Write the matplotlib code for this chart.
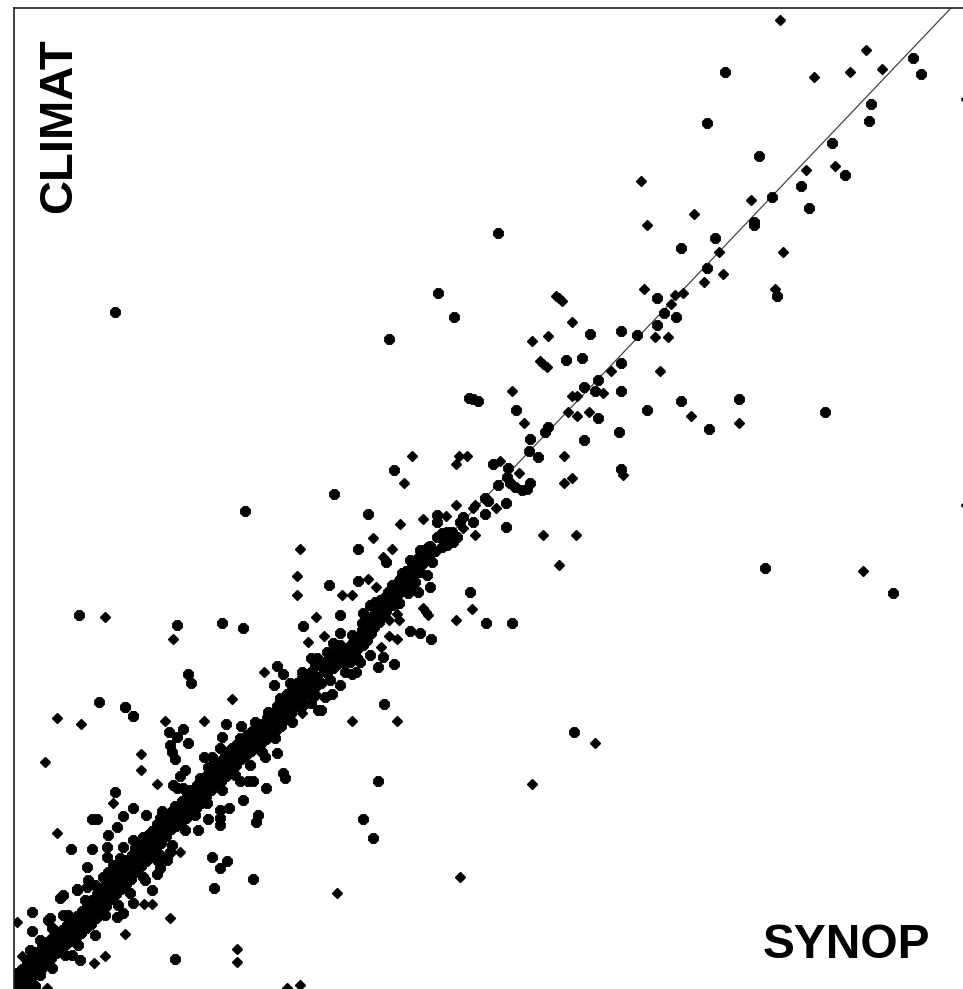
import numpy as np
import matplotlib

matplotlib.use('Agg')
import matplotlib.pyplot as plt

# values, in chart units (y axis runs downwards)
small_x = [779.7, 866.3, 850.3, 814, 882, 834.7, 806.3, 751, 694.3, 647.3, 640.7, 719.3, 782.7, 722.7, 704, 644, 774.7,
           683.3, 675, 670.7, 555.7, 559, 562.3, 571.7, 105, 172.7, 300.3, 297.3, 297.3, 316, 308.3, 532, 548, 540,
           543.3, 546.7, 611, 603.3, 571.7, 576.7, 511.7, 524.3, 568, 576.7, 589.3, 563.7, 623.3, 571.7, 563.7, 412.3,
           404.3, 459.3, 467.3, 455.7, 500.3, 519.3, 495.7, 456.3, 475, 472.7, 399.7, 423.3, 446, 462.7, 475, 543.3,
           576, 372.7, 391.7, 383.3, 558.7, 368.3, 376, 341.7, 352.3, 423.3, 426, 428.3, 472.3, 396.7, 399.3, 388.7,
           456, 324, 388.7, 396.7, 380.7, 655, 667.7, 660, 691.3, 738.7, 863, 352.3, 396.7, 595, 532, 459.7, 336.7,
           264, 57.3, 81, 164.7, 204.3, 232.3, 141, 141, 45, 157, 112.7, 57.3, 16.7, 21.7, 15, 47.3, 105, 94, 125.3,
           169.7, 144, 152.3, 180.3, 237.3, 237.3, 287.3, 300.3, 302.3, 965.5, 965.5]
small_y = [20, 50, 72, 77, 69, 166.3, 169.7, 199.7, 213.7, 225, 181, 251.7, 251.7, 273.7, 281.7, 289.3, 288.7,
           292.7, 295.3, 303.7, 295.7, 298.3, 301.3, 322.3, 617, 639, 549.3, 576, 595, 617, 642.3, 341.3, 336.3, 360.7,
           364.3, 367.3, 371.3, 393.3, 396.3, 396.3, 391, 423.3, 412, 415.7, 412, 456.3, 475.3, 478.3, 483, 456.3,
           483, 456, 456.3, 464.3, 460.7, 472.7, 508.3, 505, 505, 507.7, 524, 519.3, 516, 527.7, 535, 535,
           535, 538.3, 549, 556.7, 565, 579, 586.7, 595, 595, 608.3, 611.7, 615, 609, 614.3, 620, 620,
           620, 635.7, 635.7, 639, 646.7, 336.7, 336.7, 371.3, 415.7, 423.3, 571.3, 721, 721, 743, 784, 877, 892.7,
           672.3, 717.7, 724, 720.7, 721, 699, 754, 769.7, 762, 784, 803.3, 832.7, 922.3, 955.7, 974, 987.7, 955.7, 963.3, 933.7,
           917.7, 903.7, 903.7, 851.7, 949.3, 961.7, 987.7, 985, 712.7, 99, 505]

large_x = [725, 912.7, 921, 871, 868.7, 707, 832.3, 759, 845, 800.7, 771.7, 808.7, 754, 754, 715, 681, 707, 777.3,
           657.3, 664, 675.7, 657.3, 438, 454, 498, 79, 177.3, 222.3, 243, 245, 302.7, 310.7, 316.7, 115, 388.7, 589.7,
           621.3, 636.7, 566, 582, 621, 597.7, 584.3, 595, 621, 469.3, 478.3, 472.7, 516.3, 597.7, 548.3, 545.3, 619,
           584, 529.7, 529.3, 537.7, 621, 394, 493.3, 508.3, 506.7, 498.3, 510, 515, 521.7, 527.3, 530, 334.3, 485,
           488.3, 506, 485, 368, 437.3, 436.7, 463.3, 460, 472.7, 506, 358, 386, 358, 328.7, 470, 391.7, 399.3, 340,
           485.7, 511.7, 410, 420.3, 430.7, 647.3, 681, 709.3, 738.7, 824.7, 764.7, 892.7, 378.3, 394, 384, 573.7,
           378.3, 362.7, 372.7, 99, 276.7, 282.7, 125, 133.3, 226, 222.3, 115, 133.3, 123, 91.7, 96.7, 70.7, 91.7,
           86.7, 88.3, 31.7, 31.7, 152.3, 212.3, 226.7, 220, 253, 214.3, 175, 198.3, 229.3, 243, 266, 188.3, 191,
           125, 133.3]
large_y = [72, 58, 74.3, 104.3, 121, 123.3, 143, 156.3, 175, 186, 197, 207.7, 221.7, 225, 238, 248.3, 267.7, 295.7,
           298, 313, 317, 325.3, 292.7, 317, 232.7, 614.7, 625.3, 622.7, 628, 510.7, 625.7, 658.3, 658, 311.7, 339, 333.7,
           331, 335, 360.3, 358, 363.3, 379.7, 387.3, 391, 391, 398.3, 401.3, 399.3, 410, 418.3, 426.7, 432, 432,
           439.7, 439.3, 450.7, 456.7, 468.7, 469.7, 464, 468, 476.7, 485.3, 482.7, 487.3, 490.3, 489.3, 483, 494, 498.3,
           500.7, 502.7, 514, 513.7, 515.3, 521.7, 516.7, 521.7, 521.7, 527, 549, 562.3, 581, 584.7, 592.3, 605, 602.7, 614.7,
           622.7, 622.7, 631, 633.3, 639, 410, 401, 428.7, 399, 412.3, 568, 592.7, 666.7, 664, 704.3, 732,
           781, 819.3, 838.3, 702, 666, 674, 707.3, 715.7, 724, 737.3, 791.7, 808.3, 816, 819.3, 819.3, 849.3, 849.3,
           867.3, 880, 911.7, 931, 890, 857, 860.7, 868.3, 879.3, 888, 958.7, 830, 808.3, 799.7, 788.3, 674, 683.3,
           707.3, 715.7]

# the dense part along the diagonal, and the loose points next to it
band_x = [16.7, 26.7, 36.7, 46.7, 56.7, 66.7, 76.7, 86.7, 96.7, 106.7, 116.7, 126.7, 136.7, 146.7, 156.7, 166.7, 176.7,
          186.7, 196.7, 206.7, 216.7, 226.7, 236.7, 246.7, 256.7, 266.7, 276.7, 286.7, 296.7, 306.7, 316.7,
          12, 22, 32, 42, 52, 62, 72, 82, 92, 102, 112, 122, 132, 142, 152, 162, 172, 182, 192, 202, 212, 222, 232, 242,
          252, 262, 272, 282, 292, 302, 312,
          21, 31, 41, 51, 61, 71, 81, 91, 101, 111, 121, 131, 141, 151, 161, 171, 181, 191, 201, 211, 221, 231, 241, 251,
          261, 271, 281, 291, 301, 311, 321,
          50, 66.7, 123.3, 133.3, 143.3, 103.3, 110, 76.7, 86.7, 116.7, 123.3, 133.3, 143.3, 166.7, 156.7, 160, 170,
          323, 333, 340, 348, 356, 363, 370, 378, 385, 392, 397, 403, 327, 337, 345, 352, 360, 367, 374, 382, 389, 396,
          401, 408, 325, 333, 343, 350, 13, 20, 28, 35, 12, 436.7, 441.7, 446.7, 451.7, 456.7, 453.3, 446.7, 441.7, 450,
          445, 428.3, 420, 423.3, 410, 431.7, 420, 401.7, 415, 420, 413.3, 426.7, 406.7, 415, 410, 408.3, 418.3, 430,
          391.7, 388.3, 385, 380, 375, 370, 375, 380, 391.7, 399.3, 363.3, 370, 361.7, 370, 361.7, 340, 351.7, 360,
          368.3, 333.3, 340, 353.3, 363.3, 326.7, 335, 343.3, 356.7, 370, 383.3, 346.7, 360, 351.7, 355.7, 340, 332,
          324.7, 320.7, 182.7, 169.3, 177.3, 188.3, 170, 172.3, 175, 204, 212, 220, 208.3, 185, 180, 173.3, 176.7,
          183.3, 145.7, 161.7, 172.7, 116.7, 108.3, 106.7, 106.7, 113.3, 63.3, 60, 77.3, 48.3, 63.3, 80, 71.7, 156.7,
          220, 220, 220, 208.3, 240, 248.3, 253.3, 282.7, 285, 258.3, 256, 265, 276.7, 310.7, 318.3, 240.7, 274.3]
band_y = [983, 975, 963, 953, 943, 935, 928, 918, 907, 893, 883, 873, 860, 850, 837, 823, 817,
          807, 797, 785, 775, 767, 753, 745, 737, 730, 720, 707, 693, 683, 677,
          977, 969, 957, 947, 938, 930, 921, 911, 900, 888, 878, 866, 855, 843, 831, 818, 811, 801, 791, 780, 770, 760, 748, 740,
          731, 724, 713, 700, 688, 678, 671,
          988, 980, 969, 958, 948, 941, 933, 924, 913, 899, 889, 879, 866, 856, 843, 829, 823, 813, 803, 790, 781, 772, 759, 751,
          743, 735, 726, 713, 699, 689, 683,
          918, 917, 846.7, 840, 836.7, 876.7, 876.7, 890, 886.7, 916.7, 913.3, 903.3, 876.7, 860, 860, 855, 852,
          668, 660, 655, 648, 640, 635, 622, 612, 600, 592, 583, 575, 673, 664, 660, 653, 645, 640, 627, 617, 605, 597,
          588, 580, 662, 660, 662, 662, 985, 987, 985, 986, 988, 537.3, 533.3, 531.7, 531.7, 536.7, 541.7, 545, 546.7, 538.3,
          543.3, 546.7, 550, 556.7, 560, 561.7, 561.7, 573.3, 570, 571.7, 576.7, 575, 578.3, 581.7, 588.3, 593.3, 591.7, 586.7,
          585, 591.7, 596.7, 600, 601.7, 605, 610, 606.7, 605, 602.7, 612.7, 616.7, 623.3, 628.3, 630, 633.3, 635, 635,
          631.7, 643.3, 645, 643.3, 645, 651.7, 651.7, 651.7, 658.3, 655, 656.7, 656.7, 661.7, 674, 671.7, 685.3, 694,
          696.7, 710, 729, 731.7, 737, 742.7, 745, 751.7, 759, 756.7, 756.7, 748.3, 767.3, 770, 776, 785, 788.3,
          788.3, 815, 810.7, 810.7, 826.7, 835, 846.7, 856.7, 865, 895, 898.3, 889, 920, 915, 960, 955, 874,
          810, 818.3, 825, 819.3, 780.7, 780.7, 780.7, 772.7, 778.3, 815, 821.7, 756.7, 753.3, 703.3, 710, 725.7, 685]

# more stations inside the dense part
core_x = [21.7, 31.7, 41.7, 51.7, 61.7, 71.7, 81.7, 91.7, 101.7, 111.7, 121.7, 131.7, 141.7, 151.7, 161.7, 171.7, 181.7,
          191.7, 201.7, 211.7, 221.7, 231.7, 241.7, 251.7, 261.7, 271.7, 281.7, 291.7, 301.7, 311.7,
          17, 27, 37, 47, 57, 67, 77, 87, 97, 107, 117, 127, 137, 147, 157, 167, 177, 187, 197, 207, 217, 227, 237, 247,
          257, 267, 277, 287, 297, 307,
          26, 36, 46, 56, 66, 76, 86, 96, 106, 116, 126, 136, 146, 156, 166, 176, 186, 196, 206, 216, 226, 236, 246, 256,
          266, 276, 286, 296, 306, 316,
          328, 336, 344, 352, 359, 366, 374, 381, 388, 394, 400, 406, 412, 418, 424, 430,
          333, 341, 349, 357, 364, 371, 379, 386, 393, 399, 405, 411, 417, 423, 429, 435]
core_y = [979, 969, 958, 948, 939, 931.5, 923, 912.5, 900, 888, 878, 866.5, 855, 843.5, 830, 820, 812,
          802, 791, 780, 771, 760, 749, 741, 733.5, 725, 713.5, 700, 688, 680,
          973, 963, 952, 942.5, 934, 925.5, 916, 905.5, 894, 883, 872, 860.5, 849, 837, 824.5, 814.5, 806, 796, 785.5, 775, 765, 754, 744, 735.5,
          727.5, 718.5, 706.5, 694, 683, 674.5,
          984, 974.5, 963.5, 953, 944.5, 937, 928.5, 918.5, 906, 894, 884, 872.5, 861, 849.5, 836, 826, 818, 808, 796.5, 785.5, 776.5, 765.5, 755, 747,
          739, 730.5, 719.5, 706, 694, 686,
          664, 657, 651, 644, 637, 628, 617, 606, 596, 588, 579, 571, 565, 558, 552, 546,
          668, 662, 656, 649, 642, 633, 622, 611, 601, 593, 584, 576, 570, 563, 557, 551]

# the uneven edges of the dense part
edge_x = [30, 40, 52, 68, 85, 95, 108, 120, 135, 148, 160, 175, 190, 200, 212, 225, 240, 255, 268, 280, 290, 302, 315,
          40, 52, 65, 78, 95, 105, 118, 130, 145, 160, 172, 185, 195, 207, 222, 235, 250, 262, 275, 292, 303, 315, 330, 345]
edge_y = [950, 940, 928, 915, 900, 885, 872, 858, 848, 835, 818, 806, 790, 778, 765, 752, 738, 722, 712, 698, 683, 672, 665,
          975, 968, 955, 945, 935, 915, 905, 893, 880, 868, 845, 830, 815, 803, 790, 775, 765, 752, 738, 722, 705, 695, 680, 672]

# one-to-one line
line_x = [18, 951]
line_y = [989, 8]

fig = plt.figure(figsize=(9.63, 9.89), dpi=100)
ax = fig.add_axes([14 / 963, 0, 949 / 963, 981 / 989])
ax.set_xlim(14, 963)
ax.set_ylim(989, 8)

ax.plot(line_x, line_y, color='#444444', lw=0.9, zorder=1)
ax.plot(small_x, small_y, ls='none', marker='D', ms=4.8, mfc='black', mec='black', mew=1.0, zorder=2)
for xs, ys in [(large_x, large_y), (band_x, band_y), (core_x, core_y), (edge_x, edge_y)]:
    ax.plot(xs, ys, ls='none', marker='8', ms=8.0, mfc='black', mec='black', mew=0.6, zorder=2)

ax.set_xticks([])
ax.set_yticks([])
ax.spines['right'].set_visible(False)
ax.spines['bottom'].set_visible(False)
for side in ['left', 'top']:
    ax.spines[side].set_linewidth(1.2)
    ax.spines[side].set_color('#222222')

ax.text(763, 958, 'SYNOP', family='Liberation Sans', weight='bold', fontsize=34.5, ha='left', va='baseline')
ax.text(71.5, 213, 'CLIMAT', family='Liberation Sans', weight='bold', fontsize=34, rotation=90,
        rotation_mode='anchor', ha='left', va='baseline')

fig.savefig('out.png', dpi=100)
